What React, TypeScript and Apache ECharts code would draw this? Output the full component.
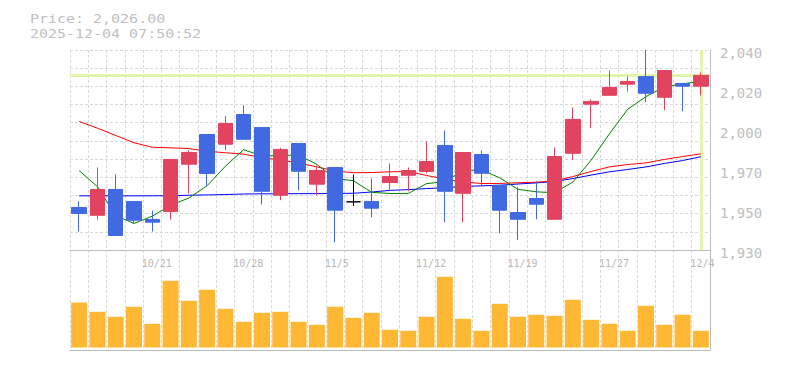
import React, { useEffect, useRef } from 'react';
import * as echarts from 'echarts';

const dates = [
  '10/15', '10/16', '10/17', '10/20', '10/21', '10/22', '10/23', '10/24', '10/27', '10/28',
  '10/29', '10/30', '10/31', '11/4', '11/5', '11/6', '11/7', '11/10', '11/11', '11/12',
  '11/13', '11/14', '11/17', '11/18', '11/19', '11/20', '11/21', '11/25', '11/26', '11/27',
  '11/28', '12/1', '12/2', '12/3', '12/4',
];

const tickDates = ['10/21', '10/28', '11/5', '11/12', '11/19', '11/27', '12/4'];

const openV = [
  1953.4, 1949.1, 1963.3, 1956.7, 1946.8, 1951.2, 1977.2, 1993.5, 1988.2, 2004.5,
  1997.4, 1960.1, 1988.6, 1966.2, 1975.4, 1956.5, 1956.7, 1967.1, 1971.1, 1973.2,
  1987.5, 1961.2, 1982.5, 1965.6, 1950.6, 1958.3, 1946.9, 1983.2, 2010.2, 2015.1,
  2021.2, 2025.4, 2014.0, 2021.6, 2020.1,
];
const closeV = [
  1950.1, 1963.3, 1938.0, 1946.4, 1945.3, 1979.8, 1983.6, 1972.1, 1999.6, 1990.9,
  1962.3, 1985.3, 1973.3, 1973.7, 1951.9, 1956.5, 1953.0, 1970.4, 1973.7, 1978.7,
  1962.3, 1983.6, 1972.2, 1951.9, 1946.9, 1955.2, 1981.4, 2001.8, 2011.7, 2019.4,
  2022.7, 2016.2, 2028.7, 2020.1, 2026.0,
];
const lowV = [
  1940.2, 1946.8, 1938.0, 1944.6, 1940.2, 1946.8, 1961.1, 1965.1, 1984.9, 1990.9,
  1955.0, 1957.4, 1962.9, 1960.1, 1934.3, 1954.1, 1948.0, 1962.3, 1962.3, 1972.2,
  1945.3, 1945.3, 1965.3, 1939.2, 1935.4, 1946.9, 1946.9, 1979.4, 1997.0, 2015.1,
  2017.2, 2011.3, 2006.9, 2006.3, 2015.1,
];
const highV = [
  1956.7, 1975.4, 1971.5, 1956.7, 1951.7, 1979.8, 1984.9, 1993.5, 2003.6, 2009.6,
  1997.4, 1986.2, 1988.6, 1976.5, 1975.4, 1971.4, 1969.3, 1977.6, 1975.4, 1989.7,
  1995.7, 1983.6, 1984.7, 1965.6, 1964.5, 1967.8, 1986.4, 2008.4, 2012.8, 2028.7,
  2025.4, 2040.0, 2028.7, 2021.6, 2027.6,
];

const ma5 = [
  1973.7, 1964.8, 1949.0, 1944.6, 1948.6, 1954.6, 1958.6, 1965.4, 1976.1, 1985.2,
  1981.7, 1982.0, 1982.3, 1977.1, 1969.3, 1968.1, 1961.7, 1961.1, 1961.1, 1966.5,
  1967.6, 1973.7, 1974.1, 1969.7, 1963.4, 1962.0, 1961.5, 1967.4, 1979.4, 1993.9,
  2007.4, 2014.4, 2019.7, 2021.4, 2022.7,
];
const ma25 = [
  2000.7, 1997.0, 1993.0, 1989.0, 1986.5, 1986.2, 1985.8, 1984.3, 1983.5, 1982.7,
  1980.8, 1979.5, 1977.9, 1975.7, 1973.5, 1972.5, 1972.6, 1973.0, 1973.2, 1971.0,
  1969.0, 1967.4, 1966.6, 1966.6, 1967.0, 1967.3, 1968.0, 1970.4, 1973.2, 1975.7,
  1977.0, 1977.9, 1979.8, 1981.4, 1982.9,
];
const ma75 = [
  1959.8, 1959.8, 1959.8, 1959.8, 1959.8, 1959.9, 1960.1, 1960.3, 1960.5, 1960.8,
  1960.9, 1960.9, 1961.0, 1961.0, 1961.1, 1961.2, 1961.9, 1962.8, 1963.2, 1963.8,
  1964.2, 1964.9, 1965.3, 1965.6, 1966.3, 1966.9, 1967.7, 1969.3, 1971.2, 1973.0,
  1974.3, 1975.7, 1977.6, 1979.2, 1981.3,
];

const volumes = [
  45.0, 35.7, 30.7, 40.7, 23.7, 66.7, 46.7, 57.7, 38.7, 25.7,
  34.7, 35.7, 25.7, 22.7, 40.7, 29.7, 34.7, 17.7, 16.7, 30.7,
  70.7, 28.7, 16.7, 43.7, 30.7, 32.7, 31.7, 47.7, 27.7, 23.7,
  16.7, 41.7, 22.7, 32.7, 16.7,
];

const priceMin = 1930;
const priceMax = 2040;
const priceLabelStep = 22;
const priceGridStep = 10;
const timestamp = '2025-12-04 07:50:52';

const UP = '#e2435f';
const DOWN = '#4169e1';
const GRID = '#d9d9d9';
const BORDER = '#bdbdbd';
const TEXT = '#c0c0c0';
const LIME = '#e3f4ab';
const MONO = '"DejaVu Sans Mono", "Liberation Mono", monospace';

const withComma = (n: number) => String(n).replace(/\B(?=(\d{3})+(?!\d))/g, ',');
const lastClose = closeV[closeV.length - 1];
const priceText =
  'Price: ' + withComma(Math.floor(lastClose)) + '.' + lastClose.toFixed(2).split('.')[1];

export default function App() {
  const ref = useRef<HTMLDivElement>(null);
  useEffect(() => {
    if (!ref.current) return;
    const chart = echarts.init(ref.current, null, { renderer: 'svg' });
    const candleData = dates.map((_, i) => {
      const item: any = { value: [openV[i], closeV[i], lowV[i], highV[i]] };
      if (openV[i] === closeV[i]) {
        item.itemStyle = {
          color: '#000', color0: '#000', borderColor: '#000', borderColor0: '#000', borderColorDoji: '#000',
        };
      }
      return item;
    });
    const headStyle = { fill: TEXT, fontSize: 12.8, fontFamily: MONO, verticalAlign: 'middle' };
    const option: any = {
      animation: false,
      graphic: [
        {
          type: 'text', x: 30, y: 18, scaleX: 1.17, silent: true,
          style: { ...headStyle, text: priceText },
        },
        {
          type: 'text', x: 30, y: 33, scaleX: 1.17, silent: true,
          style: { ...headStyle, text: timestamp },
        },
      ],
      grid: [
        { left: 70, top: 50, width: 640, height: 200, outerBoundsMode: 'none', containLabel: false },
        { left: 70, top: 250, width: 640, height: 100, outerBoundsMode: 'none', containLabel: false },
      ],
      xAxis: [
        {
          type: 'category', gridIndex: 0, data: dates, boundaryGap: true,
          axisLine: { show: true, onZero: false, lineStyle: { color: BORDER, width: 1 } },
          axisTick: { show: false },
          axisLabel: {
            show: true,
            interval: (_i: number, v: string) => tickDates.includes(v),
            align: 'left', padding: [0, 0, 0, -10.5], margin: 8,
            color: '#b8b8b8', fontSize: 10, fontFamily: MONO,
          },
          splitLine: { show: true, interval: 0, lineStyle: { color: GRID, type: [3, 2], width: 1 } },
        },
        {
          type: 'category', gridIndex: 1, data: dates, boundaryGap: true,
          axisLine: { show: true, onZero: false, lineStyle: { color: BORDER, width: 1 } },
          axisTick: { show: false },
          axisLabel: { show: false },
          splitLine: { show: true, interval: 0, lineStyle: { color: GRID, type: [3, 2], width: 1 } },
        },
      ],
      yAxis: [
        {
          type: 'value', gridIndex: 0, position: 'right',
          min: priceMin, max: priceMax, interval: priceLabelStep,
          axisLine: { show: true, lineStyle: { color: BORDER, width: 1 } },
          axisTick: { show: false },
          axisLabel: {
            formatter: (v: number) => withComma(Math.round(v / 10) * 10),
            color: TEXT, fontSize: 14, fontFamily: MONO, margin: 10,
            verticalAlign: 'top', lineHeight: 6,
          },
          splitLine: { show: false },
        },
        {
          type: 'value', gridIndex: 0, position: 'left',
          min: priceMin, max: priceMax, interval: priceGridStep,
          axisLine: { show: false }, axisTick: { show: false }, axisLabel: { show: false },
          splitLine: { show: true, lineStyle: { color: GRID, type: [3, 2], width: 1 } },
        },
        {
          type: 'value', gridIndex: 1, position: 'right', min: -2.5, max: 97.5,
          axisLine: { show: true, lineStyle: { color: BORDER, width: 1 } },
          axisTick: { show: false }, axisLabel: { show: false }, splitLine: { show: false },
        },
      ],
      series: [
        {
          name: 'MA75', type: 'line', xAxisIndex: 0, yAxisIndex: 0, data: ma75, z: 2,
          symbol: 'none', silent: true, lineStyle: { color: '#0000ff', width: 1 },
        },
        {
          name: 'MA25', type: 'line', xAxisIndex: 0, yAxisIndex: 0, data: ma25, z: 2,
          symbol: 'none', silent: true, lineStyle: { color: '#ff0000', width: 1 },
        },
        {
          name: 'MA5', type: 'line', xAxisIndex: 0, yAxisIndex: 0, data: ma5, z: 2,
          symbol: 'none', silent: true, lineStyle: { color: '#008000', width: 1 },
        },
        {
          name: 'Price', type: 'candlestick', xAxisIndex: 0, yAxisIndex: 0, z: 3,
          barWidth: 15, silent: true, data: candleData,
          itemStyle: {
            color: UP, color0: DOWN, borderColor: UP, borderColor0: DOWN,
            borderColorDoji: '#000', borderWidth: 1,
          },
          markLine: {
            silent: true, z: 1, symbol: ['none', 'none'], label: { show: false },
            lineStyle: { color: LIME, width: 3, type: 'solid' },
            emphasis: { disabled: true },
            data: [{ yAxis: lastClose }, { xAxis: dates[dates.length - 1] }],
          },
        },
        {
          name: 'Volume', type: 'bar', xAxisIndex: 1, yAxisIndex: 2, data: volumes,
          barWidth: 16, silent: true, itemStyle: { color: '#feb834' },
        },
      ],
    };
    chart.setOption(option);
    return () => chart.dispose();
  }, []);
  return (
    <div
      ref={ref}
      style={{ position: 'fixed', left: 0, top: 0, width: 785, height: 370, background: '#fff' }}
    />
  );
}
